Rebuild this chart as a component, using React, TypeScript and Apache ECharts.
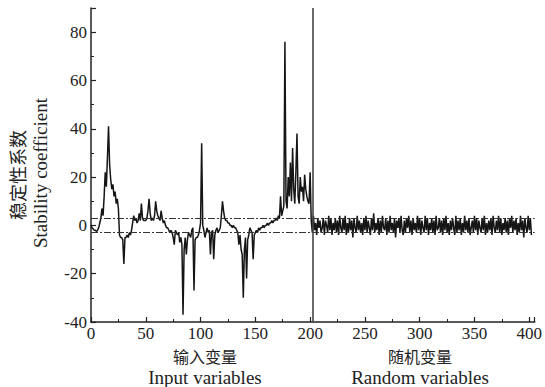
import React, { useEffect, useRef } from "react";
import * as echarts from "echarts";

// Stability coefficient of input variables (x = 0..200)
const inputValues: number[] = [
  0, -1, -1.5, -2, -2, -2.5, -2, -1, 1, 3,
  7, 4, 12, 22, 16, 28, 41, 25, 19, 15,
  17, 12, 14, 9, 11, 7, -4, -5, -5, -6,
  -16, -5, -5, -4, -5, -3, -4, -2, 1, 4,
  2, 3, 1, 2, 5, 2, 9, 3, 2, 2,
  2, 3, 6, 11, 5, 2, 3, 2, 4, 10,
  6, 4, 3, 2, 6, 3, 1, 2, 0, -1,
  -1, -2, -3, -2, -3, -5, -8, -2, -3, -4,
  -3, -7, -5, -8, -37, -10, -5, -12, -6, -3,
  -4, -5, -2, -1, -27, -6, -5, -5, -4, -2,
  1, 34, 0, -2, -5, -3, -1, -3, -2, -12,
  -3, -2, -14, -4, -2, -1, -3, -2, -1, 4,
  10, 6, 3, 2, 2, 1, 1, 0, 0, -1,
  0, -1, -1, -2, -3, -8, -4, -10, -12, -30,
  -10, -5, -22, -6, -4, -1, -2, -3, -14, -4,
  -3, -2, -3, -1, -2, -1, -1, 0, -1, 0,
  0, 1, 0, 1, 1, 2, 1, 2, 2, 3,
  2, 4, 3, 12, 4, 6, 8, 76, 10, 7,
  20, 12, 26, 10, 32, 15, 9, 22, 38, 12,
  9, 20, 14, 16, 10, 21, 15, 12, 10, 9,
  22,
];

// Stability coefficient of random variables (x = 201..)
const randomValues: number[] = [
  2, -3, 4, -2, 1, -4, 3, -1, 2, -3, -1, 3, -4, 2, 0, -3, 4, -2, 3, -4, 1, -2, 3, -3, 2, -4, 4, -1, -3, 3,
  -2, 4, -4, 1, -3, 3, -2, 2, -5, 3, -1, -3, 4, -2, 2, -3, 1, -4, 3, -2,
  4, -3, 2, -1, -4, 3, -2, 5, -3, 1, -2, 3, -4, 2, -3, 4, -1, -2, 3, -4,
  2, -3, 4, -2, 1, -3, 3, -5, 2, -1, 3, -3, 4, -2, -4, 2, -3, 3, -1, 4,
  -3, 2, -4, 3, -2, 1, -3, 4, -2, 3, -4, 2, -1, -3, 4, -2, 3, -4, 1, -2,
  3, -3, 2, -4, 4, -2, -1, 3, -3, 2, -4, 3, -2, 4, -3, 1, -4, 2, -2, 3,
  -1, -4, 4, -3, 2, -2, 3, -4, 1, -3, 4, -2, 2, -3, 3, -4, -1, 2, -3, 4,
  -2, 3, -4, 2, -1, -3, 3, -2, 4, -4, 1, -3, 2, -2, 3, -4, 4, -1, -3, 2,
  -2, 4, -3, 3, -4, 1, -2, 3, -3, 2,
  -4, 3, -1, 4, -3, 2, -2, 3, -4, 1,
  -3, 4, -2, 2, -5, 3, -1, -3, 4, -2,
  3, -4,
];

const inputStartX = 0;
const randomStartX = 201;
const thresholdValues: number[] = [3, -3];
const dividerX = 202;

const xTickLabels = ["0", "50", "100", "150", "200", "250", "300", "350", "400"];
const yTickLabels = ["-40", "-20", "0", "20", "40", "60", "80"];

const SERIF = "Liberation Serif";
const CJK = "Noto Sans CJK SC";

export default function App() {
  const ref = useRef<HTMLDivElement>(null);

  useEffect(() => {
    if (!ref.current) return;
    const chart = echarts.init(ref.current, undefined, { renderer: "svg" });

    const data: [number, number][] = [
      ...inputValues.map((v, i) => [inputStartX + i, v] as [number, number]),
      ...randomValues.map((v, i) => [randomStartX + i, v] as [number, number]),
    ];

    const axisColor = "#222";

    chart.setOption({
      animation: false,
      backgroundColor: "#fff",
      grid: { left: 91, right: 5, top: 8, bottom: 65, containLabel: false },
      xAxis: {
        type: "value",
        min: 0,
        max: 405,
        interval: 50,
        axisLine: { show: true, onZero: false, lineStyle: { color: axisColor, width: 1.5 } },
        axisTick: { show: true, inside: true, length: 5, lineStyle: { color: axisColor, width: 1.2 } },
        minorTick: { show: true, splitNumber: 2, length: 3, lineStyle: { color: axisColor, width: 1 } },
        splitLine: { show: false },
        axisLabel: {
          showMaxLabel: false,
          color: "#222",
          fontFamily: SERIF,
          fontSize: 17,
          margin: 3,
          formatter: (v: number) => (xTickLabels.includes(String(v)) ? String(v) : ""),
        },
      },
      yAxis: {
        type: "value",
        min: -40,
        max: 90,
        interval: 20,
        axisLine: { show: true, onZero: false, lineStyle: { color: axisColor, width: 1.5 } },
        axisTick: { show: true, inside: true, length: 5, lineStyle: { color: axisColor, width: 1.2 } },
        minorTick: { show: true, splitNumber: 2, length: 3, lineStyle: { color: axisColor, width: 1 } },
        splitLine: { show: false },
        axisLabel: {
          showMaxLabel: false,
          color: "#222",
          fontFamily: SERIF,
          fontSize: 17,
          margin: 4,
          formatter: (v: number) => (yTickLabels.includes(String(v)) ? String(v) : ""),
        },
      },
      series: [
        {
          type: "line",
          data,
          showSymbol: false,
          symbol: "none",
          lineStyle: { color: "#151515", width: 1.5 },
          markLine: {
            silent: true,
            symbol: "none",
            label: { show: false },
            data: [
              ...thresholdValues.map((t) => ({
                yAxis: t,
                lineStyle: { color: "#333", width: 1.2, type: [7, 2, 2, 2] },
              })),
              { xAxis: dividerX, lineStyle: { color: "#444", width: 1.6, type: "solid" } },
            ],
          },
        },
      ],
      graphic: [
        {
          type: "text",
          x: 17,
          y: 175,
          rotation: Math.PI / 2,
          style: { text: "稳定性系数", font: `18px ${CJK}`, fill: "#222", align: "center", verticalAlign: "middle" },
        },
        {
          type: "text",
          x: 40,
          y: 173,
          rotation: Math.PI / 2,
          style: { text: "Stability coefficient", font: `19px ${SERIF}`, fill: "#222", align: "center", verticalAlign: "middle" },
        },
        {
          type: "text",
          x: 205,
          y: 356,
          style: { text: "输入变量", font: `16px ${CJK}`, fill: "#222", align: "center", verticalAlign: "middle" },
        },
        {
          type: "text",
          x: 205,
          y: 377,
          style: { text: "Input variables", font: `19px ${SERIF}`, fill: "#222", align: "center", verticalAlign: "middle" },
        },
        {
          type: "text",
          x: 420,
          y: 356,
          style: { text: "随机变量", font: `16px ${CJK}`, fill: "#222", align: "center", verticalAlign: "middle" },
        },
        {
          type: "text",
          x: 420,
          y: 377,
          style: { text: "Random variables", font: `19px ${SERIF}`, fill: "#222", align: "center", verticalAlign: "middle" },
        },
      ],
    });

    return () => chart.dispose();
  }, []);

  return <div ref={ref} style={{ width: 545, height: 387, position: "absolute", left: 0, top: 0 }} />;
}
